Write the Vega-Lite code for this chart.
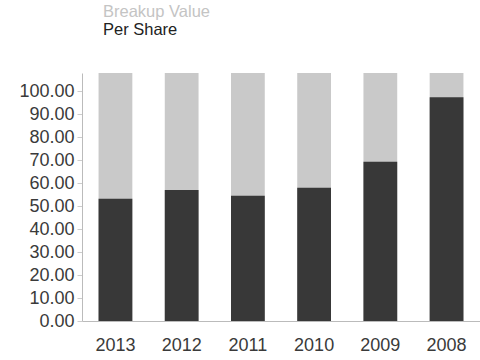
{
  "$schema": "https://vega.github.io/schema/vega-lite/v6.json",
  "autosize": "none",
  "width": 398,
  "height": 248,
  "padding": {"left": 82, "top": 73, "right": 0, "bottom": 39},
  "background": "white",
  "title": {
    "text": "Breakup Value",
    "subtitle": "Per Share",
    "anchor": "start",
    "frame": "group",
    "dx": 21,
    "offset": 35,
    "font": "Liberation Sans",
    "fontSize": 16.5,
    "fontWeight": "normal",
    "color": "#c4c4c4",
    "subtitleFont": "Liberation Sans",
    "subtitleFontSize": 16.5,
    "subtitleColor": "#222222",
    "subtitlePadding": 1
  },
  "data": {
    "values": [
      {"year": "2013", "value": 53.2, "total": 108},
      {"year": "2012", "value": 57.1, "total": 108},
      {"year": "2011", "value": 54.5, "total": 108},
      {"year": "2010", "value": 58.0, "total": 108},
      {"year": "2009", "value": 69.3, "total": 108},
      {"year": "2008", "value": 97.4, "total": 108}
    ]
  },
  "encoding": {
    "x": {
      "field": "year",
      "type": "nominal",
      "sort": null,
      "scale": {"paddingInner": 0.49, "paddingOuter": 0.25},
      "axis": {
        "title": null,
        "labelAngle": 0,
        "labelFont": "Liberation Sans",
        "labelFontSize": 18,
        "labelColor": "#3a3a3a",
        "labelPadding": 15,
        "ticks": false,
        "domainColor": "#bbbbbb"
      }
    }
  },
  "layer": [
    {
      "mark": {"type": "bar", "color": "#c9c9c9"},
      "encoding": {
        "y": {
          "field": "total",
          "type": "quantitative",
          "scale": {"domain": [0, 108], "nice": false},
          "axis": {
            "title": null,
            "values": [0, 10, 20, 30, 40, 50, 60, 70, 80, 90, 100],
            "format": ".2f",
            "labelOverlap": false,
            "labelFont": "Liberation Sans",
            "labelFontSize": 18,
            "labelColor": "#3a3a3a",
            "labelPadding": 3,
            "tickSize": 5,
            "tickColor": "#cccccc",
            "domainColor": "#bbbbbb",
            "grid": false
          }
        }
      }
    },
    {
      "mark": {"type": "bar", "color": "#383838"},
      "encoding": {
        "y": {
          "field": "value",
          "type": "quantitative",
          "axis": {
            "title": null,
            "values": [0, 10, 20, 30, 40, 50, 60, 70, 80, 90, 100],
            "format": ".2f",
            "labelOverlap": false,
            "labelFont": "Liberation Sans",
            "labelFontSize": 18,
            "labelColor": "#3a3a3a",
            "labelPadding": 3,
            "tickSize": 5,
            "tickColor": "#cccccc",
            "domainColor": "#bbbbbb",
            "grid": false
          }
        }
      }
    }
  ],
  "config": {
    "view": {"stroke": null},
    "axisY": {"labelOverlap": false, "labelSeparation": 0}
  }
}
